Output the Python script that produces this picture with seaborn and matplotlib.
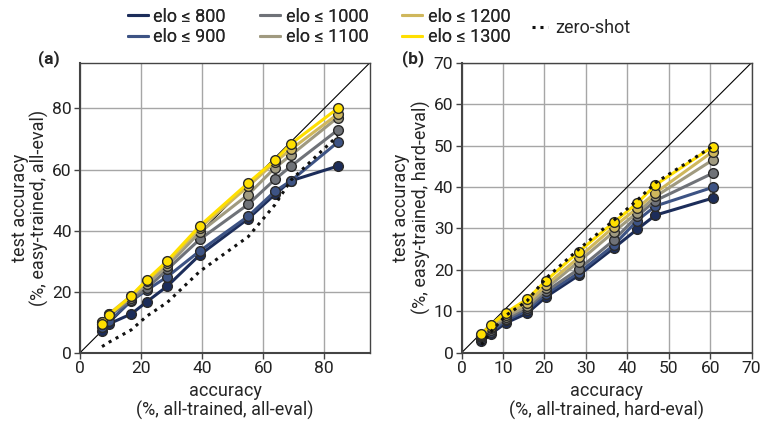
import matplotlib
matplotlib.use("Agg")
import matplotlib.pyplot as plt
from matplotlib.lines import Line2D
import seaborn as sns
import numpy as np
import pandas as pd

# panel (a): all-eval
x_all = [7.2, 9.6, 16.8, 21.9, 28.6, 39.2, 55.1, 63.9, 69.1, 84.4]
all_800 = [7.2, 9.5, 12.7, 16.7, 21.8, 32.0, 43.9, 51.9, 56.3, 61.1]
all_900 = [8.4, 10.3, 17.0, 20.5, 24.9, 33.3, 44.7, 52.9, 56.3, 68.9]
all_1000 = [9.5, 12.2, 17.3, 21.1, 27.3, 37.1, 48.6, 56.8, 61.1, 72.9]
all_1100 = [10.1, 12.6, 18.0, 22.5, 28.4, 39.4, 51.8, 60.6, 64.7, 77.0]
all_1200 = [10.0, 12.8, 18.6, 23.5, 29.5, 40.8, 54.5, 62.5, 66.6, 78.1]
all_1300 = [9.3, 12.5, 18.7, 23.9, 30.1, 41.5, 55.6, 63.1, 68.4, 80.0]
all_zero = [2.0, 3.5, 7.5, 12.0, 16.5, 26.6, 38.0, 48.5, 56.5, 71.0]

# panel (b): hard-eval
x_hard = [4.8, 7.0, 10.7, 15.8, 20.4, 28.3, 36.8, 42.4, 46.8, 60.6]
hard_800 = [2.9, 4.5, 7.2, 9.5, 13.5, 18.7, 25.3, 29.8, 33.2, 37.3]
hard_900 = [3.4, 5.0, 7.8, 10.2, 14.2, 19.3, 26.0, 31.9, 35.4, 39.9]
hard_1000 = [3.8, 5.6, 8.2, 10.8, 14.8, 20.2, 27.2, 33.0, 36.7, 43.3]
hard_1100 = [4.0, 6.0, 8.7, 11.3, 15.5, 22.0, 29.2, 33.8, 37.7, 46.5]
hard_1200 = [4.3, 6.3, 9.2, 12.0, 16.3, 23.0, 30.4, 34.9, 38.6, 48.5]
hard_1300 = [4.5, 6.7, 9.7, 12.9, 17.4, 24.4, 31.5, 36.1, 40.5, 49.7]
hard_zero = [1.9, 5.0, 9.0, 12.5, 18.0, 25.0, 32.0, 36.8, 41.0, 49.8]

elo_labels = ["elo ≤ 800", "elo ≤ 900", "elo ≤ 1000", "elo ≤ 1100", "elo ≤ 1200", "elo ≤ 1300"]
elo_colors = ["#1c2d5a", "#3d5384", "#6f7278", "#a09a80", "#cfb75c", "#ffdf00"]

sns.set_theme(style="whitegrid")
plt.rcParams['font.family'] = ['Roboto', 'DejaVu Sans']
plt.rcParams['font.size'] = 12.5


def long_df(x, series):
    rows = []
    for lab, ys in zip(elo_labels, series):
        for xv, yv in zip(x, ys):
            rows.append((lab, xv, yv))
    return pd.DataFrame(rows, columns=["elo", "x", "y"])


fig = plt.figure(figsize=(7.63, 4.21), dpi=100)
ax1 = fig.add_axes([0.1049, 0.1622, 0.380, 0.689])
ax2 = fig.add_axes([0.605, 0.1622, 0.380, 0.689])

panels = [
    (ax1, x_all, [all_800, all_900, all_1000, all_1100, all_1200, all_1300], all_zero, 95,
     np.arange(0, 81, 20), "(%, all-trained, all-eval)", "(%, easy-trained, all-eval)"),
    (ax2, x_hard, [hard_800, hard_900, hard_1000, hard_1100, hard_1200, hard_1300], hard_zero, 70,
     np.arange(0, 71, 10), "(%, all-trained, hard-eval)", "(%, easy-trained, hard-eval)"),
]

for ax, xs, series, zero, lim, ticks, xl, yl in panels:
    ax.plot([0, lim], [0, lim], color="black", lw=0.8, zorder=1)
    df = long_df(xs, series)
    sns.lineplot(data=df, x="x", y="y", hue="elo", hue_order=elo_labels, palette=elo_colors,
                 marker="o", markersize=7, markeredgecolor="#2a2a2a", markeredgewidth=1.0,
                 linewidth=2.2, legend=False, ax=ax, zorder=3)
    ax.plot(xs, zero, color="#111111", ls=(0, (1, 1.6)), lw=2.2, zorder=4)
    ax.set_xlim(0, lim)
    ax.set_ylim(0, lim)
    ax.set_xticks(ticks)
    ax.set_yticks(ticks)
    ax.set_xlabel("accuracy\n" + xl, fontsize=13, labelpad=4, linespacing=1.1)
    ax.set_ylabel("test accuracy\n" + yl, fontsize=13, labelpad=2, linespacing=1.1)
    ax.grid(True, color="#a6a6a6", lw=1.0)
    ax.tick_params(axis="both", labelsize=12.5, length=4, width=1, color="#444444",
                   direction="out", pad=2, labelcolor="#222222")
    ax.tick_params(axis="both", which="both", bottom=True, left=True)
    for side, sp in ax.spines.items():
        sp.set_color("#444444")
        sp.set_linewidth(1.0)
    ax.spines["left"].set_linewidth(1.5)
    ax.spines["bottom"].set_linewidth(1.5)
    ax.set_axisbelow(True)

fig.text(0.050, 0.842, "(a)", fontsize=12.5, fontweight="bold", ha="left", va="bottom")
fig.text(0.527, 0.842, "(b)", fontsize=12.5, fontweight="bold", ha="left", va="bottom")

handles = [Line2D([0], [0], color=c, lw=2.2) for c in elo_colors]
leg1 = fig.legend(handles, elo_labels, ncol=3, loc="upper left", bbox_to_anchor=(0.168, 0.982),
                  frameon=False, fontsize=13, handlelength=1.1, handletextpad=0.3,
                  columnspacing=1.9, labelspacing=0.15, borderaxespad=0, borderpad=0)
zero_h = [Line2D([0], [0], color="#111111", lw=2.2, ls=(0, (1, 1.6)))]
fig.legend(zero_h, ["zero-shot"], loc="upper left", bbox_to_anchor=(0.697, 0.955),
           frameon=False, fontsize=13, handlelength=0.9, handletextpad=0.4,
           borderaxespad=0, borderpad=0)
fig.add_artist(leg1)

fig.savefig("out.png", dpi=100)
